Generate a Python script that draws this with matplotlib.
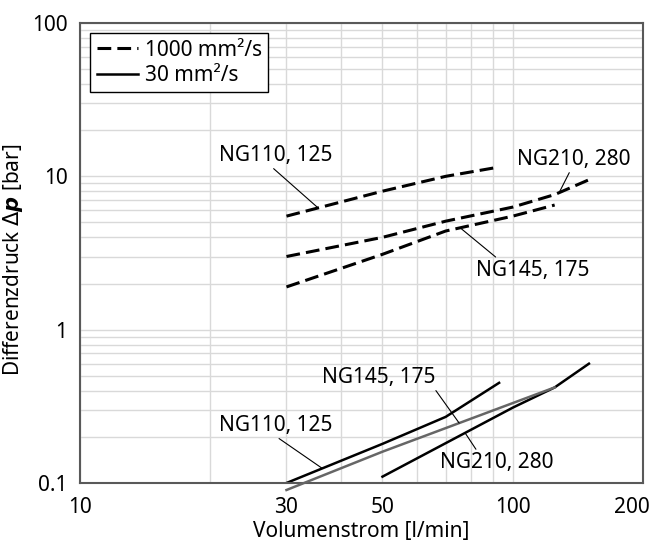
import numpy as np
import matplotlib
matplotlib.use('Agg')
import matplotlib.pyplot as plt
from matplotlib.ticker import FixedLocator, FixedFormatter, LogLocator, NullFormatter
from matplotlib.transforms import ScaledTranslation

# 1000 mm²/s (dashed)
q_ng110_hot = [30, 50, 70, 93]
dp_ng110_hot = [5.5, 8.0, 10.0, 11.5]
q_ng210_hot = [30, 50, 70, 100, 125, 150]
dp_ng210_hot = [3.0, 4.0, 5.1, 6.3, 7.6, 9.5]
q_ng145_hot = [30, 50, 70, 100, 125]
dp_ng145_hot = [1.9, 3.1, 4.4, 5.5, 6.5]

# 30 mm²/s (solid)
q_ng110_cold = [30, 50, 70, 93]
dp_ng110_cold = [0.10, 0.18, 0.27, 0.45]
q_ng145_cold = [30, 50, 125]
dp_ng145_cold = [0.09, 0.16, 0.42]
q_ng210_cold = [50, 100, 125, 150]
dp_ng210_cold = [0.11, 0.31, 0.42, 0.60]

x_ticks = [10, 30, 50, 100, 200]
x_minor = [20, 40, 60, 70, 80, 90]
y_ticks = [0.1, 1, 10, 100]
y_tick_labels = ['0.1', '1', '10', '100']

plt.rcParams['font.family'] = ['Noto Sans', 'DejaVu Sans']
plt.rcParams['mathtext.fontset'] = 'dejavusans'
FS = 15


def on_curve(q, dp, x):
    # point on a log-log polyline, used as end of a leader line
    return x, 10 ** np.interp(np.log10(x), np.log10(q), np.log10(dp))


fig = plt.figure(figsize=(6.54, 5.44), dpi=100)
ax = fig.add_axes([80 / 654, 61 / 544, 563 / 654, 460 / 544])
ax.set_xscale('log')
ax.set_yscale('log')
ax.set_xlim(10, 200)
ax.set_ylim(0.1, 100)

dash = (0, (4.5, 2))
ax.plot(q_ng110_hot, dp_ng110_hot, color='black', lw=2.2, linestyle=dash, label='1000 mm²/s')
ax.plot(q_ng210_hot, dp_ng210_hot, color='black', lw=2.2, linestyle=dash)
ax.plot(q_ng145_hot, dp_ng145_hot, color='black', lw=2.2, linestyle=dash)

ax.plot(q_ng110_cold, dp_ng110_cold, color='black', lw=1.8, label='30 mm²/s')
ax.plot(q_ng145_cold, dp_ng145_cold, color='#666666', lw=1.8, clip_on=False, zorder=3)
ax.plot(q_ng210_cold, dp_ng210_cold, color='black', lw=1.8)

# grid
ax.xaxis.set_major_locator(FixedLocator(x_ticks))
ax.xaxis.set_major_formatter(FixedFormatter([str(v) for v in x_ticks]))
ax.xaxis.set_minor_locator(FixedLocator(x_minor))
ax.xaxis.set_minor_formatter(NullFormatter())
ax.yaxis.set_major_locator(FixedLocator(y_ticks))
ax.yaxis.set_major_formatter(FixedFormatter(y_tick_labels))
ax.yaxis.set_minor_locator(LogLocator(base=10, subs=np.arange(2, 10)))
ax.yaxis.set_minor_formatter(NullFormatter())
ax.grid(True, which='both', color='#d9d9d9', lw=1.0)
ax.set_axisbelow(True)
ax.tick_params(which='both', length=0, labelsize=FS)
ax.tick_params(axis='x', pad=10)
ax.tick_params(axis='y', pad=9)

# last x label sits a bit inside the figure
last = ax.xaxis.get_major_ticks()[-1].label1
last.set_transform(last.get_transform() + ScaledTranslation(-0.11, 0, fig.dpi_scale_trans))

for s in ax.spines.values():
    s.set_color('#595959')
    s.set_linewidth(1.5)

ax.set_xlabel('Volumenstrom [l/min]', fontsize=FS, labelpad=2)
ax.set_ylabel(r'Differenzdruck $\mathit{\Delta}\boldsymbol{p}$ [bar]', fontsize=FS)
ax.yaxis.set_label_coords(-0.098, 0.485)

leg = ax.legend(loc='upper left', fontsize=FS, frameon=True, fancybox=False,
                edgecolor='black', framealpha=1, handlelength=2.0, handletextpad=0.3,
                borderaxespad=0.5, borderpad=0.3, labelspacing=0.2)
leg.get_frame().set_linewidth(1.0)

arrow = dict(arrowstyle='-', color='black', lw=0.8, shrinkA=0, shrinkB=0)


def label(text, xy, xytext, relpos):
    ax.annotate(text, xy=xy, xytext=xytext, ha='center', va='center', fontsize=FS,
                arrowprops=dict(arrow, relpos=relpos))


label('NG110, 125', on_curve(q_ng110_hot, dp_ng110_hot, 35.5), (28.4, 13.7), (0.45, 0.0))
label('NG210, 280', on_curve(q_ng210_hot, dp_ng210_hot, 128), (138.6, 12.9), (0.47, 0.0))
label('NG145, 175', on_curve(q_ng145_hot, dp_ng145_hot, 75.6), (111.4, 2.44), (0.2, 1.0))
label('NG145, 175', on_curve(q_ng145_cold, dp_ng145_cold, 75.2), (48.9, 0.489), (0.99, 0.0))
label('NG110, 125', on_curve(q_ng110_cold, dp_ng110_cold, 36.3), (28.4, 0.238), (0.49, 0.0))
label('NG210, 280', on_curve(q_ng210_cold, dp_ng210_cold, 77.6), (92.0, 0.136), (0.33, 1.0))

fig.savefig('out.png', dpi=100)
